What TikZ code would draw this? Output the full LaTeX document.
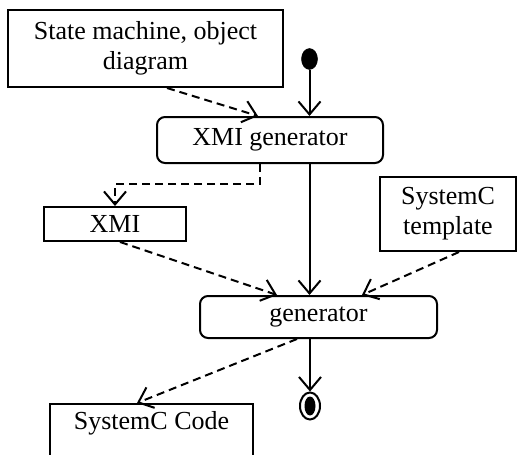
\documentclass[tikz,border=0pt]{standalone}
\usepackage{fontspec}
\setmainfont{Liberation Serif}
\usetikzlibrary{arrows.meta,shapes.geometric}
\begin{document}
\begin{tikzpicture}[x=1pt,y=-1pt,
  line width=2pt,
  every node/.style={font=\fontsize{26}{30}\selectfont, inner sep=0pt, align=center},
  box/.style={draw, rectangle, line width=2pt},
  act/.style={draw, rectangle, rounded corners=8pt, line width=2pt},
  flow/.style={line width=2pt, -{Straight Barb[length=13pt,width=22pt,line width=2pt]}},
  obj/.style={flow, dash pattern=on 8pt off 5pt}
]
\useasboundingbox (0,0) rectangle (517,455);
\clip (0,0) rectangle (517,455);

\node[box, minimum width=275pt, minimum height=77pt] (sm) at (145.5,48.5) {State machine, object\\diagram};
\node[ellipse, fill=black, draw=black, line width=0.5pt, minimum width=16pt, minimum height=21pt] (init) at (309.5,59) {};
\node[act, minimum width=226pt, minimum height=46pt] (xg) at (270,140) {XMI generator};
\node[box, minimum width=142pt, minimum height=34pt] (xmi) at (115,224) {XMI};
\node[box, minimum width=136pt, minimum height=74pt] (tpl) at (448,214) {SystemC\\template};
\node[act, minimum width=237pt, minimum height=42pt] (gen) at (318.5,317) {generator};
\node[ellipse, draw, line width=2pt, minimum width=20pt, minimum height=27pt] (fin) at (310,406) {};
\node[ellipse, fill=black, minimum width=11pt, minimum height=19pt] (fini) at (310,406) {};
\node[box, anchor=north, minimum width=203pt, inner ysep=7pt, text height=18pt, text depth=60pt] (code) at (151.5,403) {SystemC Code};

\draw[obj] ([xshift=21.5pt]sm.south) -- ([xshift=-12pt]xg.north);
\draw[flow] (init.south) -- (init.south |- xg.north);
\draw[obj] ([xshift=-10pt]xg.south) -- ++(0,20) -| (xmi.north);
\draw[obj] ([xshift=5pt]xmi.south) -- ([xshift=-41.5pt]gen.north);
\draw[flow] (init.south |- xg.south) -- (init.south |- gen.north);
\draw[obj] ([xshift=11pt]tpl.south) -- ([xshift=43.5pt]gen.north);
\draw[flow] (fin.north |- gen.south) -- (fin.north);
\draw[obj] ([xshift=-21.5pt]gen.south) -- ([xshift=-14.5pt]code.north);
\end{tikzpicture}
\end{document}
